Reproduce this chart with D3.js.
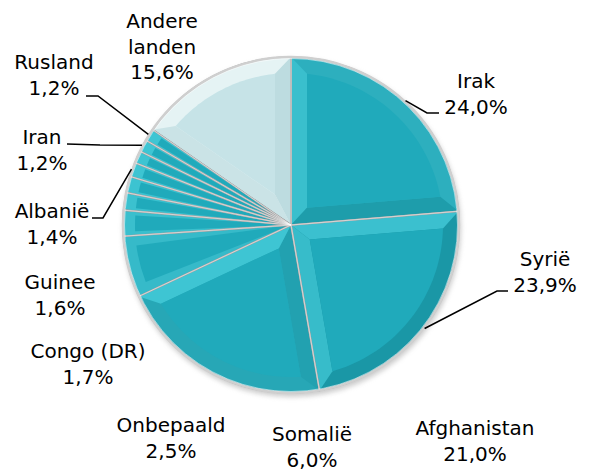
<!DOCTYPE html>
<html>
<head>
<meta charset="utf-8">
<script src="https://cdn.jsdelivr.net/npm/d3@7/dist/d3.min.js"></script>
<style>
  body { margin: 0; background: #fff; }
  svg text { font-family: "DejaVu Sans", Verdana, sans-serif; font-size: 20px; fill: #000; }
</style>
</head>
<body>
<script>
// slices clockwise from 12 o'clock
var countries = ["Irak", "Syrië", "Afghanistan", "Somalië", "Onbepaald", "Congo (DR)",
                 "Guinee", "Albanië", "", "Iran", "Rusland", "Andere landen"];
var shares = [24.0, 23.9, 21.0, 6.0, 2.5, 1.7, 1.6, 1.4, 1.2, 1.2, 1.2, 15.6];

var width = 589, height = 470;
var cx = 291, cy = 225, r = 168;

// label placement (x = centre of text, y = first baseline), leader: text end -> elbow
var labelPos = {
  "Irak":          {x: 476, y: 88,  leader: [439, 113, 427, 113]},
  "Syrië":         {x: 545, y: 266, leader: [508, 291, 497, 291]},
  "Afghanistan":   {x: 475, y: 435},
  "Somalië":       {x: 312, y: 441},
  "Onbepaald":     {x: 171, y: 432},
  "Congo (DR)":    {x: 88,  y: 358},
  "Guinee":        {x: 60,  y: 289},
  "Albanië":       {x: 52,  y: 218, leader: [92, 218, 103, 218]},
  "Iran":          {x: 42,  y: 144, leader: [67, 144, 100, 145]},
  "Rusland":       {x: 54,  y: 69,  leader: [86, 96, 98, 96]},
  "Andere landen": {x: 162, y: 28, wrap: true}
};

var fmt = function(v) { return d3.format(".1f")(v).replace(".", ",") + "%"; };

var data = countries.map(function(c, i) { return {name: c, share: shares[i]}; });

var svg = d3.select("body").append("svg")
    .attr("width", width)
    .attr("height", height);

var defs = svg.append("defs");
var g = svg.append("g").attr("transform", "translate(" + cx + "," + cy + ")");

var pie = d3.pie().sort(null).value(function(d) { return d.share; });
var arc = d3.arc().innerRadius(0).outerRadius(r);
var arcs = pie(data);

function palette(d) {
  if (d.data.name == "Andere landen")
    return {dark: "#b6d8dc", light: "#e6f4f5", inner: "#c6e3e7"};
  return {dark: "#1a97a6", light: "#3fc6d4", inner: "#20aabb"};
}

// light from top-left
var lightAngle = -Math.PI / 4;
function shade(p, normal) {
  var t = 0.5 + 0.5 * Math.cos(normal - lightAngle);
  return d3.interpolateRgb(p.dark, p.light)(t);
}
function pt(a, rr) { return [rr * Math.sin(a), -rr * Math.cos(a)]; }

// soft shadow under the pie
defs.append("filter").attr("id", "shadow")
  .append("feGaussianBlur").attr("stdDeviation", 2.5);
g.append("circle").attr("cx", 1).attr("cy", 3).attr("r", r + 1)
  .attr("fill", "#9a9a9a").attr("filter", "url(#shadow)").attr("opacity", 0.5);

var slices = g.selectAll("g.slice").data(arcs).enter().append("g").attr("class", "slice");

slices.each(function(d) {
  var sel = d3.select(this);
  var p = palette(d);
  var a0 = d.startAngle, a1 = d.endAngle, mid = (a0 + a1) / 2, half = (a1 - a0) / 2;

  // base face, shaded by where it faces
  sel.append("path").attr("d", arc(d)).attr("fill", shade(p, mid));

  var b = 16, R = r - b;
  var delta = Math.asin(b / R);
  var apexDist = b / Math.sin(half);
  if (a1 - a0 - 2 * delta > 0.02 && apexDist < R * 0.55) {
    var apex = pt(mid, apexDist);
    var p0 = pt(a0 + delta, R), p1 = pt(a1 - delta, R);
    var o0 = pt(a0, r), o1 = pt(a1, r);
    // start-edge facet
    sel.append("path")
      .attr("d", "M0,0L" + o0 + "L" + p0 + "L" + apex + "Z")
      .attr("fill", shade(p, a0 - Math.PI / 2));
    // end-edge facet
    sel.append("path")
      .attr("d", "M0,0L" + apex + "L" + p1 + "L" + o1 + "Z")
      .attr("fill", shade(p, a1 + Math.PI / 2));
    // inner face
    var inner = [apex];
    var n = 40;
    for (var k = 0; k <= n; k++) inner.push(pt(a0 + delta + (a1 - a0 - 2 * delta) * k / n, R));
    sel.append("path")
      .attr("d", "M" + inner.join("L") + "Z")
      .attr("fill", p.inner);
  } else {
    // thin slices: light edge band + darker inner wedge
    var thin = d3.arc().innerRadius(0).outerRadius(r - 12)
      .startAngle(a0 + half * 0.35).endAngle(a1 - half * 0.35);
    sel.append("path").attr("d", thin(d)).attr("fill", p.inner);
  }
});

// slice borders
g.selectAll("path.border").data(arcs).enter().append("path")
  .attr("class", "border")
  .attr("d", arc)
  .attr("fill", "none")
  .attr("stroke", "#a3a3a3")
  .attr("stroke-width", 1.6)
  .attr("stroke-linejoin", "round");
g.selectAll("path.hl").data(arcs).enter().append("path")
  .attr("class", "hl")
  .attr("d", arc)
  .attr("fill", "none")
  .attr("stroke", "#ffffff")
  .attr("stroke-opacity", 0.55)
  .attr("stroke-width", 0.6);

// rim
g.append("circle").attr("r", r).attr("fill", "none")
  .attr("stroke", "#cfcfcf").attr("stroke-width", 2.5);
g.append("circle").attr("r", r - 1.5).attr("fill", "none")
  .attr("stroke", "#ffffff").attr("stroke-opacity", 0.5).attr("stroke-width", 1);

// labels
var labels = svg.append("g");
arcs.forEach(function(d) {
  var name = d.data.name;
  if (!name) return;
  var pos = labelPos[name];
  var lines = pos.wrap ? name.split(" ") : [name];
  lines.push(fmt(d.data.share));
  var t = labels.append("text").attr("text-anchor", "middle");
  lines.forEach(function(l, i) {
    t.append("tspan").attr("x", pos.x).attr("y", pos.y + i * 25.5).text(l);
  });
  if (pos.leader) {
    var mid = (d.startAngle + d.endAngle) / 2;
    var e = pt(mid, r + 1);
    var L = pos.leader;
    labels.append("polyline")
      .attr("points", [[L[0], L[1]], [L[2], L[3]], [cx + e[0], cy + e[1]]].join(" "))
      .attr("fill", "none")
      .attr("stroke", "#000")
      .attr("stroke-width", 1.5);
  }
});
</script>
</body>
</html>
